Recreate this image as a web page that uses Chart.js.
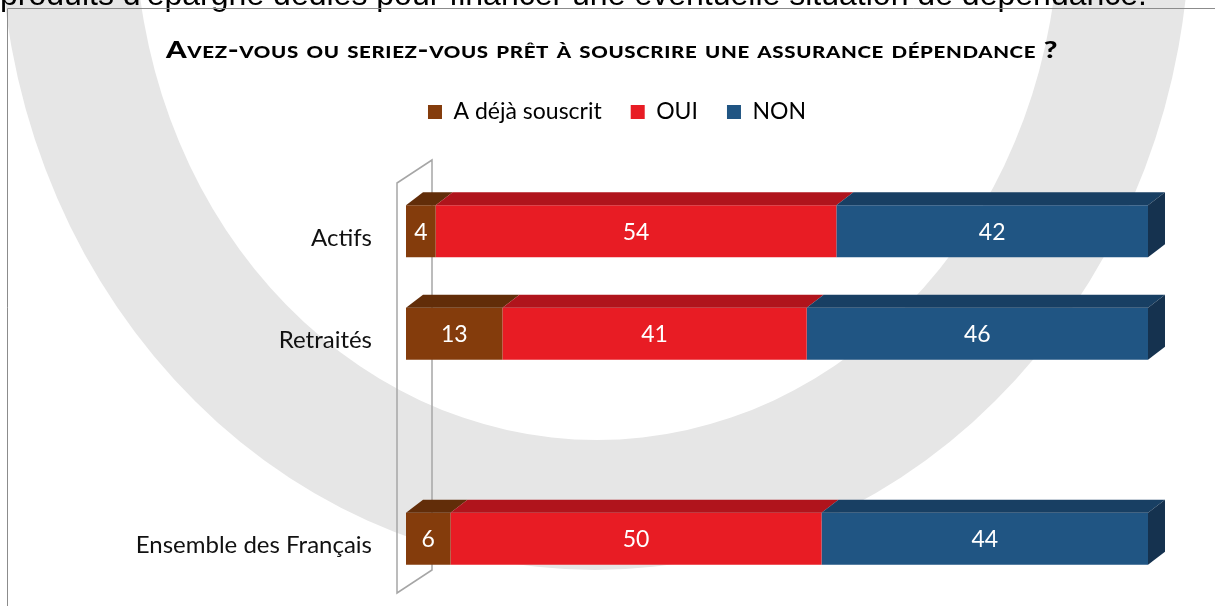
<!DOCTYPE html>
<html lang="fr">
<head>
<meta charset="utf-8">
<title>Assurance dépendance</title>
<script src="https://cdn.jsdelivr.net/npm/chart.js@4.4.1/dist/chart.umd.min.js"></script>
<style>
  html, body { margin: 0; padding: 0; background: #fff; }
  #chart { display: block; }
</style>
</head>
<body>
<canvas id="chart" width="1215" height="606"></canvas>
<script>
// ====== DONNÉES ======
const categories = ["Actifs", "Retraités", "", "Ensemble des Français"];
const dejaSouscrit = [4, 13, null, 6];
const oui = [54, 41, null, 50];
const non = [42, 46, null, 44];
const seriesNames = ["A déjà souscrit", "OUI", "NON"];
const chartTitle = "Avez-vous ou seriez-vous prêt à souscrire une assurance dépendance ?";
const pageText = "produits d'épargne dédiés pour financer une éventuelle situation de dépendance.";

// ====== COULEURS ======
const frontColors = ["#843c0c", "#e81c24", "#205583"];
const topColors = ["#622d09", "#b0141c", "#183f63"];
const sideColor = "#15324f";
const DX = 17, DY = 13; // profondeur 3D

// fond blanc, filigrane, cadre et texte coupé en haut
const backdrop = {
  id: "backdrop",
  beforeDraw(chart) {
    const ctx = chart.ctx;
    ctx.save();
    ctx.fillStyle = "#fff";
    ctx.fillRect(0, 0, chart.width, chart.height);

    ctx.beginPath();
    ctx.ellipse(595, -80, 595, 650, 0, 0, Math.PI * 2);
    ctx.moveTo(597 + 462, -80);
    ctx.ellipse(597, -80, 462, 520, 0, 0, Math.PI * 2);
    ctx.fillStyle = "#e6e6e6";
    ctx.fill("evenodd");

    ctx.fillStyle = "#000";
    ctx.font = "31px 'Liberation Sans', Arial, sans-serif";
    ctx.textBaseline = "alphabetic";
    const w = ctx.measureText(pageText).width;
    ctx.translate(0, 5);
    ctx.scale(1147 / w, 1);
    ctx.fillText(pageText, 0, 0);
    ctx.restore();

    ctx.save();
    ctx.strokeStyle = "#8c8c8c";
    ctx.lineWidth = 1;
    ctx.beginPath();
    ctx.moveTo(7.5, chart.height);
    ctx.lineTo(7.5, 8.5);
    ctx.lineTo(chart.width, 8.5);
    ctx.stroke();
    ctx.restore();
  },
};

// titre en petites capitales
const smallCapsTitle = {
  id: "smallCapsTitle",
  afterDraw(chart) {
    const ctx = chart.ctx;
    ctx.save();
    ctx.fillStyle = "#000";
    ctx.font = "small-caps 900 23px Lato, sans-serif";
    ctx.letterSpacing = "0.5px";
    ctx.textAlign = "center";
    ctx.textBaseline = "alphabetic";
    const w = ctx.measureText(chartTitle).width;
    ctx.translate(612, 58);
    ctx.scale(892 / w, 1);
    ctx.fillText(chartTitle, 0, 0);
    ctx.restore();
  },
};

// paroi 3D de l'axe des catégories
const wall = {
  id: "wall",
  beforeDatasetsDraw(chart) {
    const { left, top, bottom } = chart.chartArea;
    const ctx = chart.ctx;
    ctx.save();
    ctx.strokeStyle = "#a6a6a6";
    ctx.lineWidth = 1.5;
    ctx.beginPath();
    ctx.moveTo(left - 9, top + 3);
    ctx.lineTo(left + 26, top - 20);
    ctx.lineTo(left + 26, bottom - 20);
    ctx.lineTo(left - 9, bottom + 3);
    ctx.closePath();
    ctx.stroke();
    ctx.restore();
  },
};

// faces du dessus / côté + étiquettes
const bars3d = {
  id: "bars3d",
  afterDatasetsDraw(chart) {
    const ctx = chart.ctx;
    const last = chart.data.datasets.length - 1;
    ctx.save();
    chart.data.datasets.forEach((ds, i) => {
      const meta = chart.getDatasetMeta(i);
      meta.data.forEach((bar, j) => {
        if (ds.data[j] == null) return;
        const { x, y, base, height } = bar.getProps(["x", "y", "base", "height"], true);
        const t = y - height / 2;
        const b = y + height / 2;
        ctx.fillStyle = topColors[i];
        ctx.beginPath();
        ctx.moveTo(base, t);
        ctx.lineTo(base + DX, t - DY);
        ctx.lineTo(x + DX, t - DY);
        ctx.lineTo(x, t);
        ctx.closePath();
        ctx.fill();
        if (i === last) {
          ctx.fillStyle = sideColor;
          ctx.beginPath();
          ctx.moveTo(x, t);
          ctx.lineTo(x + DX, t - DY);
          ctx.lineTo(x + DX, b - DY);
          ctx.lineTo(x, b);
          ctx.closePath();
          ctx.fill();
        }
      });
    });

    ctx.fillStyle = "#fff";
    ctx.font = "23px Lato, sans-serif";
    ctx.textAlign = "center";
    ctx.textBaseline = "middle";
    chart.data.datasets.forEach((ds, i) => {
      chart.getDatasetMeta(i).data.forEach((bar, j) => {
        const v = ds.data[j];
        if (v == null) return;
        const { x, y, base } = bar.getProps(["x", "y", "base"], true);
        ctx.fillText(String(v), (x + base) / 2, y + 1);
      });
    });
    ctx.restore();
  },
};

function build() {
  new Chart(document.getElementById("chart"), {
    type: "bar",
    data: {
      labels: categories,
      datasets: [dejaSouscrit, oui, non].map((vals, i) => ({
        label: seriesNames[i],
        data: vals,
        backgroundColor: frontColors[i],
        borderWidth: 0,
        barPercentage: 0.507,
        categoryPercentage: 1,
      })),
    },
    options: {
      responsive: false,
      animation: false,
      indexAxis: "y",
      layout: { padding: { left: 86, right: 67, top: 71.5, bottom: 16 } },
      scales: {
        x: {
          stacked: true,
          min: 0,
          max: 100,
          position: "top",
          ticks: { display: false },
          grid: { display: false },
          border: { display: false },
          afterFit: (s) => { s.height = 46.5; },
        },
        y: {
          stacked: true,
          grid: { display: false, drawTicks: false },
          border: { display: false },
          ticks: {
            color: "#111",
            font: { family: "Lato", size: 24 },
            padding: 34,
            labelOffset: 7,
          },
          afterFit: (s) => {
            s.width = 320;
            s.paddingTop = 0;
            s.paddingBottom = 0;
          },
        },
      },
      plugins: {
        title: { display: false },
        legend: {
          position: "top",
          labels: {
            boxWidth: 14,
            boxHeight: 14,
            padding: 29,
            color: "#000",
            font: { family: "Lato", size: 23 },
          },
        },
        tooltip: { enabled: false },
      },
    },
    plugins: [backdrop, wall, bars3d, smallCapsTitle],
  });
}

Promise.all([
  document.fonts.load("22px Lato"),
  document.fonts.load("bold 22px Lato"),
  document.fonts.load("900 22px Lato"),
  document.fonts.load("31px 'Liberation Sans'"),
]).then(build, build);
</script>
</body>
</html>
